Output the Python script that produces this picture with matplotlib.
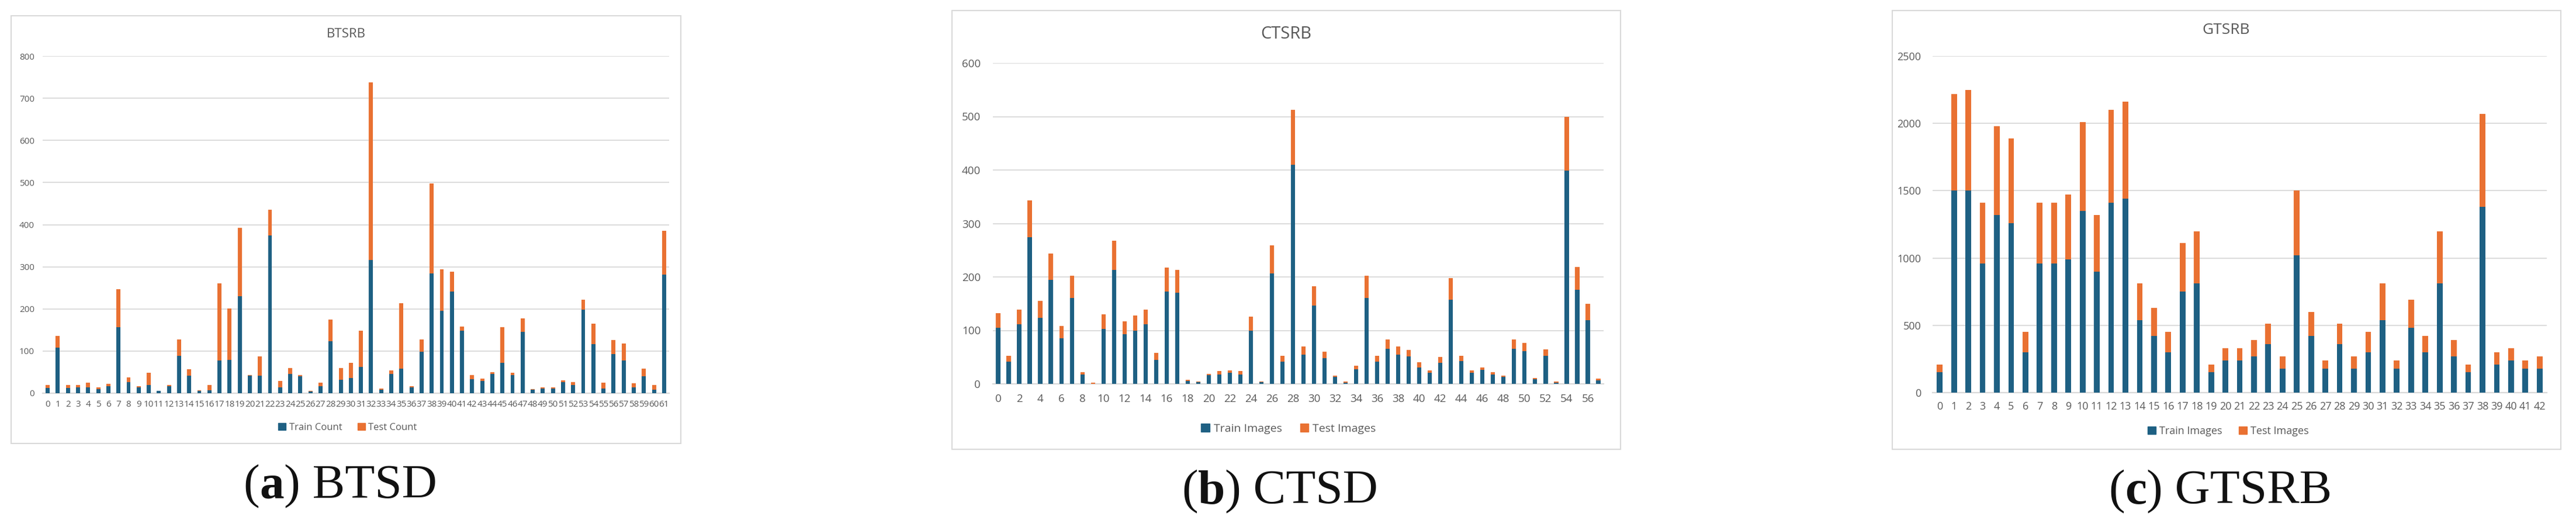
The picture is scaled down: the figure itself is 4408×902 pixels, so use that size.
import matplotlib
matplotlib.use("Agg")
import matplotlib.pyplot as plt
from matplotlib.patches import Rectangle, Patch
from matplotlib.offsetbox import TextArea, HPacker, AnnotationBbox

# --- data ---
btsrb_classes = [str(i) for i in range(62)]
btsrb_train = [13, 108, 12, 14, 14, 10, 16, 156, 26, 14, 19, 5, 16, 89, 42, 6, 7, 77, 79, 230,
               41, 42, 374, 14, 46, 40, 4, 16, 124, 32, 36, 62, 316, 8, 46, 58, 14, 98, 284, 195,
               241, 148, 33, 29, 46, 72, 43, 146, 8, 11, 11, 26, 19, 198, 116, 11, 93, 77, 14, 40,
               8, 281]
btsrb_test = [6, 28, 7, 5, 11, 4, 6, 91, 11, 3, 30, 1, 3, 39, 15, 1, 12, 184, 122, 162,
              2, 46, 61, 15, 14, 3, 1, 9, 51, 28, 36, 86, 422, 3, 8, 156, 3, 30, 214, 99,
              48, 10, 10, 6, 4, 85, 6, 32, 2, 3, 3, 4, 7, 24, 49, 14, 33, 41, 9, 18,
              11, 104]

ctsrb_classes = [str(i) for i in range(58)]
ctsrb_train = [105, 41, 111, 274, 124, 194, 85, 161, 18, 0, 103, 213, 93, 100, 111, 45, 173, 170, 6, 3,
               16, 18, 21, 18, 100, 3, 207, 41, 410, 55, 146, 48, 13, 2, 27, 161, 41, 66, 55, 51,
               31, 21, 39, 157, 43, 21, 26, 18, 13, 66, 61, 9, 53, 2, 399, 176, 119, 7]
ctsrb_test = [27, 11, 28, 69, 31, 50, 23, 41, 4, 2, 27, 55, 24, 28, 28, 13, 44, 43, 2, 1,
              3, 6, 4, 6, 26, 1, 52, 11, 103, 15, 37, 12, 2, 2, 7, 41, 11, 17, 15, 12,
              9, 4, 11, 41, 10, 4, 5, 4, 2, 17, 16, 2, 12, 2, 100, 43, 31, 3]

gtsrb_classes = [str(i) for i in range(43)]
gtsrb_train = [150, 1500, 1500, 960, 1320, 1260, 300, 960, 960, 990, 1350, 900, 1410, 1440, 540,
               420, 300, 750, 810, 150, 240, 240, 270, 360, 180, 1020, 420, 180, 360, 180,
               300, 540, 180, 480, 300, 810, 270, 150, 1380, 210, 240, 180, 180]
gtsrb_test = [60, 720, 750, 450, 660, 630, 150, 450, 450, 480, 660, 420, 690, 720, 270,
              210, 150, 360, 390, 60, 90, 90, 120, 150, 90, 480, 180, 60, 150, 90,
              150, 270, 60, 210, 120, 390, 120, 60, 690, 90, 90, 60, 90]

W, H = 4408, 902
TRAIN_C = "#1E6083"
TEST_C = "#E97132"
GRID_C = "#D9D9D9"
TEXT_C = "#595959"
SANS = ["Open Sans", "DejaVu Sans"]
SERIF = ["Liberation Serif", "DejaVu Serif"]

panels = [
    dict(title="BTSRB", classes=btsrb_classes, train=btsrb_train, test=btsrb_test,
         names=("Train Count", "Test Count"), ymax=800, ystep=100, xstep=1,
         box=(19, 27, 1165, 759), axes=(73, 96, 1145, 673),
         title_xy=(592, 58), legend_xy=(595, 732), tick_fs=11, title_fs=16, leg_fs=12,
         ypad=10, xpad=9, cap=("(", "a", ") BTSD"), cap_xy=(582, 833)),
    dict(title="CTSRB", classes=ctsrb_classes, train=ctsrb_train, test=ctsrb_test,
         names=("Train Images", "Test Images"), ymax=600, ystep=100, xstep=2,
         box=(1629, 18, 2773, 769), axes=(1699, 108, 2744, 657),
         title_xy=(2201, 58), legend_xy=(2205, 734), tick_fs=13.5, title_fs=21, leg_fs=14,
         ypad=15, xpad=12, cap=("(", "b", ") CTSD"), cap_xy=(2190, 842)),
    dict(title="GTSRB", classes=gtsrb_classes, train=gtsrb_train, test=gtsrb_test,
         names=("Train Images", "Test Images"), ymax=2500, ystep=500, xstep=1,
         box=(3238, 18, 4382, 769), axes=(3307, 96, 4358, 672),
         title_xy=(3809, 52), legend_xy=(3813, 738), tick_fs=13, title_fs=19, leg_fs=13,
         ypad=14, xpad=11, cap=("(", "c", ") GTSRB"), cap_xy=(3799, 842)),
]


def fx(x):
    return x / W


def fy(y):
    return 1 - y / H


fig = plt.figure(figsize=(W / 100, H / 100), dpi=100)
fig.patch.set_facecolor("white")

for p in panels:
    # chart frame
    x0, y0, x1, y1 = p["box"]
    fig.add_artist(Rectangle((fx(x0), fy(y1)), (x1 - x0) / W, (y1 - y0) / H,
                             transform=fig.transFigure, fill=False,
                             edgecolor=GRID_C, linewidth=1.5))

    l, t, r, b = p["axes"]
    ax = fig.add_axes([fx(l), fy(b), (r - l) / W, (b - t) / H])
    xs = list(range(len(p["classes"])))
    ax.bar(xs, p["train"], width=0.4, color=TRAIN_C, zorder=3)
    ax.bar(xs, p["test"], width=0.4, bottom=p["train"], color=TEST_C, zorder=3)

    ax.set_xlim(-0.5, len(xs) - 0.5)
    ax.set_ylim(0, p["ymax"])
    ax.set_yticks(range(0, p["ymax"] + 1, p["ystep"]))
    ax.set_xticks(xs[::p["xstep"]])
    ax.set_xticklabels(p["classes"][::p["xstep"]])
    ax.grid(True, axis="y", color=GRID_C, linewidth=1.3, zorder=0)
    ax.set_axisbelow(True)
    for s in ("top", "right", "left"):
        ax.spines[s].set_visible(False)
    ax.spines["bottom"].set_color(GRID_C)
    ax.spines["bottom"].set_linewidth(1.6)
    ax.tick_params(axis="both", length=0, labelsize=p["tick_fs"], labelcolor=TEXT_C)
    ax.tick_params(axis="y", pad=p["ypad"])
    ax.tick_params(axis="x", pad=p["xpad"])
    for lab in ax.get_xticklabels() + ax.get_yticklabels():
        lab.set_family(SANS)

    fig.text(fx(p["title_xy"][0]), fy(p["title_xy"][1]), p["title"], ha="center", va="center",
             fontsize=p["title_fs"], color=TEXT_C, family=SANS)

    handles = [Patch(color=TRAIN_C), Patch(color=TEST_C)]
    fig.legend(handles, p["names"], loc="center",
               bbox_to_anchor=(fx(p["legend_xy"][0]), fy(p["legend_xy"][1])),
               ncol=2, frameon=False, handlelength=0.75, handleheight=0.75,
               handletextpad=0.35, columnspacing=1.6,
               prop=dict(family=SANS, size=p["leg_fs"]), labelcolor=TEXT_C)

    # caption below the chart, label letter in bold
    pre, letter, post = p["cap"]
    parts = [TextArea(pre, textprops=dict(family=SERIF, size=60, color="#111111")),
             TextArea(letter, textprops=dict(family=SERIF, size=60, weight="bold", color="#111111")),
             TextArea(post, textprops=dict(family=SERIF, size=60, color="#111111"))]
    packed = HPacker(children=parts, align="baseline", pad=0, sep=0)
    fig.add_artist(AnnotationBbox(packed, (fx(p["cap_xy"][0]), fy(p["cap_xy"][1])),
                                  xycoords="figure fraction", frameon=False,
                                  box_alignment=(0.5, 0.5)))

fig.savefig("out.png", dpi=100, facecolor="white")
plt.close(fig)
